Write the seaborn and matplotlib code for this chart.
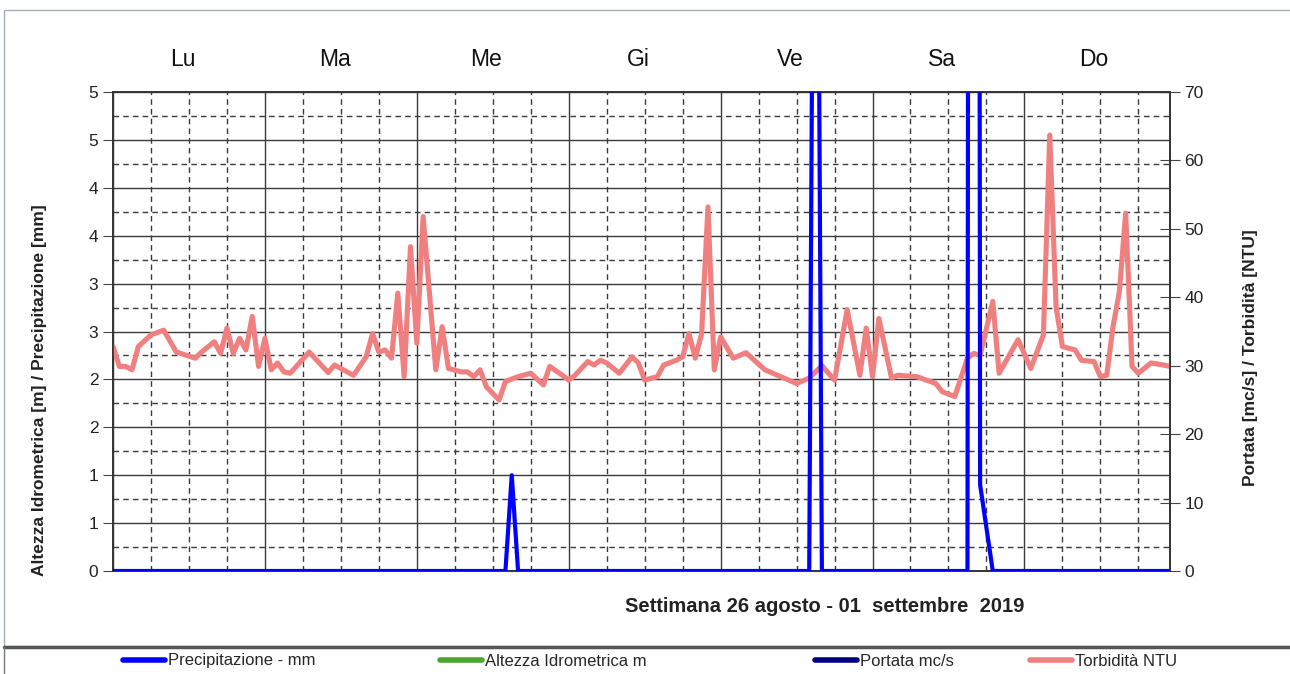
import math
import pandas as pd
import matplotlib
matplotlib.use('Agg')
import matplotlib.pyplot as plt
import matplotlib.dates as mdates
from matplotlib.ticker import MultipleLocator, FuncFormatter
from matplotlib.lines import Line2D
from matplotlib.patches import Rectangle
from matplotlib import font_manager
import seaborn as sns

inizio = pd.Timestamp('2019-08-26 00:00')
giorni = ['Lu', 'Ma', 'Me', 'Gi', 'Ve', 'Sa', 'Do']

# precipitazione [mm], ore dall'inizio della settimana
ore_prec = [0, 62, 63, 64, 110, 111, 112, 135, 136, 137, 138, 139, 167]
precipitazione = [0, 0, 1.0, 0, 0, 12, 0, 0, 60, 0.9, 0.45, 0, 0]

# torbidita [NTU]
ore_torb = [0, 1, 2, 3, 4, 6, 8, 10, 13, 14, 16, 17, 18, 19, 20, 21, 22, 23, 24, 25,
            26, 27, 28, 31, 34, 35, 38, 40, 41, 42, 43, 44, 45, 46, 47, 48, 49, 51, 52, 53,
            55, 56, 57, 58, 59, 61, 62, 64, 66, 68, 69, 71, 72, 73, 75, 76, 77, 78, 80, 82,
            83, 84, 86, 87, 89, 90, 91, 92, 93, 94, 95, 96, 98, 100, 103, 105, 108, 110, 112, 114,
            116, 118, 119, 120, 121, 123, 124, 127, 130, 131, 133, 135, 136, 137, 139, 140, 143, 145, 147, 148,
            149, 150, 152, 153, 155, 156, 157, 158, 159, 160, 161, 162, 164, 166, 167]
torbidita = [32.8, 29.9, 29.9, 29.4, 32.8, 34.5, 35.2, 32.0, 31.1, 32.0, 33.5, 31.8, 35.5, 31.8, 34.0, 32.3, 37.2, 29.9, 34.0, 29.4,
             30.4, 29.1, 28.9, 32.0, 29.0, 30.1, 28.6, 31.3, 34.7, 32.0, 32.3, 31.1, 40.6, 28.4, 47.4, 33.3, 51.8, 29.4, 35.7, 29.6,
             29.1, 29.1, 28.4, 29.4, 26.9, 25.0, 27.7, 28.4, 28.9, 27.2, 29.9, 28.6, 27.9, 28.6, 30.6, 30.1, 30.8, 30.4, 28.9, 31.3,
             30.4, 27.9, 28.4, 30.1, 30.8, 31.3, 34.7, 31.1, 34.7, 53.2, 29.4, 34.2, 31.1, 31.9, 29.4, 28.6, 27.4, 28.2, 30.0, 27.9,
             38.2, 28.6, 35.5, 28.4, 36.9, 28.2, 28.6, 28.4, 27.4, 26.2, 25.5, 31.1, 31.8, 31.5, 39.4, 28.9, 33.8, 29.6, 34.5, 63.7,
             38.6, 32.8, 32.3, 30.8, 30.6, 28.4, 28.6, 35.7, 40.8, 52.3, 29.9, 28.9, 30.4, 30.1, 29.9]

serie = ['Precipitazione - mm', 'Altezza Idrometrica m', 'Portata mc/s', 'Torbidità NTU']
colori = ['#0000ff', '#4aa52e', '#000080', '#f08080']

df_prec = pd.DataFrame({'ora': inizio + pd.to_timedelta(ore_prec, unit='h'), 'valore': precipitazione})
df_torb = pd.DataFrame({'ora': inizio + pd.to_timedelta(ore_torb, unit='h'), 'valore': torbidita})

sns.set_style('white')
plt.rcParams['font.family'] = ['Liberation Sans', 'DejaVu Sans']
nomi = {f.name for f in font_manager.fontManager.ttflist}
font_legenda = 'Liberation Sans Narrow' if 'Liberation Sans Narrow' in nomi else 'Liberation Sans'

W, H = 1290, 674
fig = plt.figure(figsize=(W / 100, H / 100), dpi=100)
ax = fig.add_axes([113 / W, 103 / H, 1057 / W, 479 / H])
ax2 = ax.twinx()
ax3 = ax.twinx()

sns.lineplot(data=df_torb, x='ora', y='valore', ax=ax2, color=colori[3], lw=3.7)
sns.lineplot(data=df_prec, x='ora', y='valore', ax=ax3, color=colori[0], lw=3)

fine = inizio + pd.Timedelta(hours=167)
for a in (ax, ax2, ax3):
    a.set_xlim(inizio, fine)
ax.set_ylim(0, 5)
ax3.set_ylim(0, 5)
ax2.set_ylim(0, 70)
ax3.axis('off')

ax.xaxis.set_major_locator(mdates.DayLocator())
ax.xaxis.set_minor_locator(mdates.HourLocator(byhour=[6, 12, 18]))
ax.yaxis.set_major_locator(MultipleLocator(0.5))
ax.yaxis.set_minor_locator(MultipleLocator(0.25))
ax.yaxis.set_major_formatter(FuncFormatter(lambda v, p: str(int(math.floor(v + 0.5)))))
ax.grid(which='major', color='#3a3a3a', lw=1, ls='-')
ax.grid(which='minor', color='#3a3a3a', lw=1, ls=(0, (4, 3)))
ax.tick_params(axis='x', which='both', direction='out', length=6, color='#444', labelbottom=False)
ax.tick_params(axis='y', which='major', direction='out', length=7, color='#444', labelsize=12.5, labelcolor='#222')
ax.tick_params(axis='y', which='minor', length=0)
ax.set_xlabel('')
ax.set_ylabel('')

ax2.yaxis.set_major_locator(MultipleLocator(10))
ax2.grid(False)
ax2.tick_params(axis='y', direction='inout', length=14, color='#444', labelsize=12.5, labelcolor='#222')
ax2.set_ylabel('')
ax2.set_xlabel('')
for a in (ax, ax2):
    for s in a.spines.values():
        s.set_color('#333')
        s.set_linewidth(1.2)

for i, g in enumerate(giorni):
    x = mdates.date2num(inizio + pd.Timedelta(hours=24 * i + 11))
    ax.text(x, 1.067, g, transform=ax.get_xaxis_transform(), ha='center', va='center',
            fontsize=16.5, color='#111')

fig.text(40 / W, 1 - 390 / H, 'Altezza Idrometrica [m] / Precipitazione [mm]', rotation=90,
         ha='center', va='center', fontsize=12.5, fontweight='bold', color='#222')
fig.text(1250 / W, 1 - 358 / H, 'Portata [mc/s] / Torbidità [NTU]', rotation=90,
         ha='center', va='center', fontsize=12.5, fontweight='bold', color='#222')
fig.text(825 / W, 1 - 606 / H, 'Settimana 26 agosto - 01  settembre  2019',
         ha='center', va='center', fontsize=14.5, fontweight='bold', color='#222')

# cornice e separatore legenda
fig.add_artist(Rectangle((4 / W, 1 - 646 / H), 1.0, (646 - 10) / H, transform=fig.transFigure,
                         fill=False, ec='#a3adb8', lw=1))
fig.add_artist(Line2D([4 / W, 1], [1 - 647 / H] * 2, transform=fig.transFigure, color='#555', lw=2.5))
fig.add_artist(Line2D([4 / W] * 2, [0, 1 - 647 / H], transform=fig.transFigure, color='#777', lw=1))

pos_legenda = [123, 440, 815, 1030]
for nome, col, xp in zip(serie, colori, pos_legenda):
    h = Line2D([], [], color=col, lw=4)
    fig.legend([h], [nome], loc='center left', bbox_to_anchor=(xp / W, 1 - 661 / H),
               frameon=False, borderpad=0, borderaxespad=0, handlelength=2.5, handletextpad=0.2,
               prop={'family': font_legenda, 'size': 12})

fig.savefig('out.png', dpi=100)
